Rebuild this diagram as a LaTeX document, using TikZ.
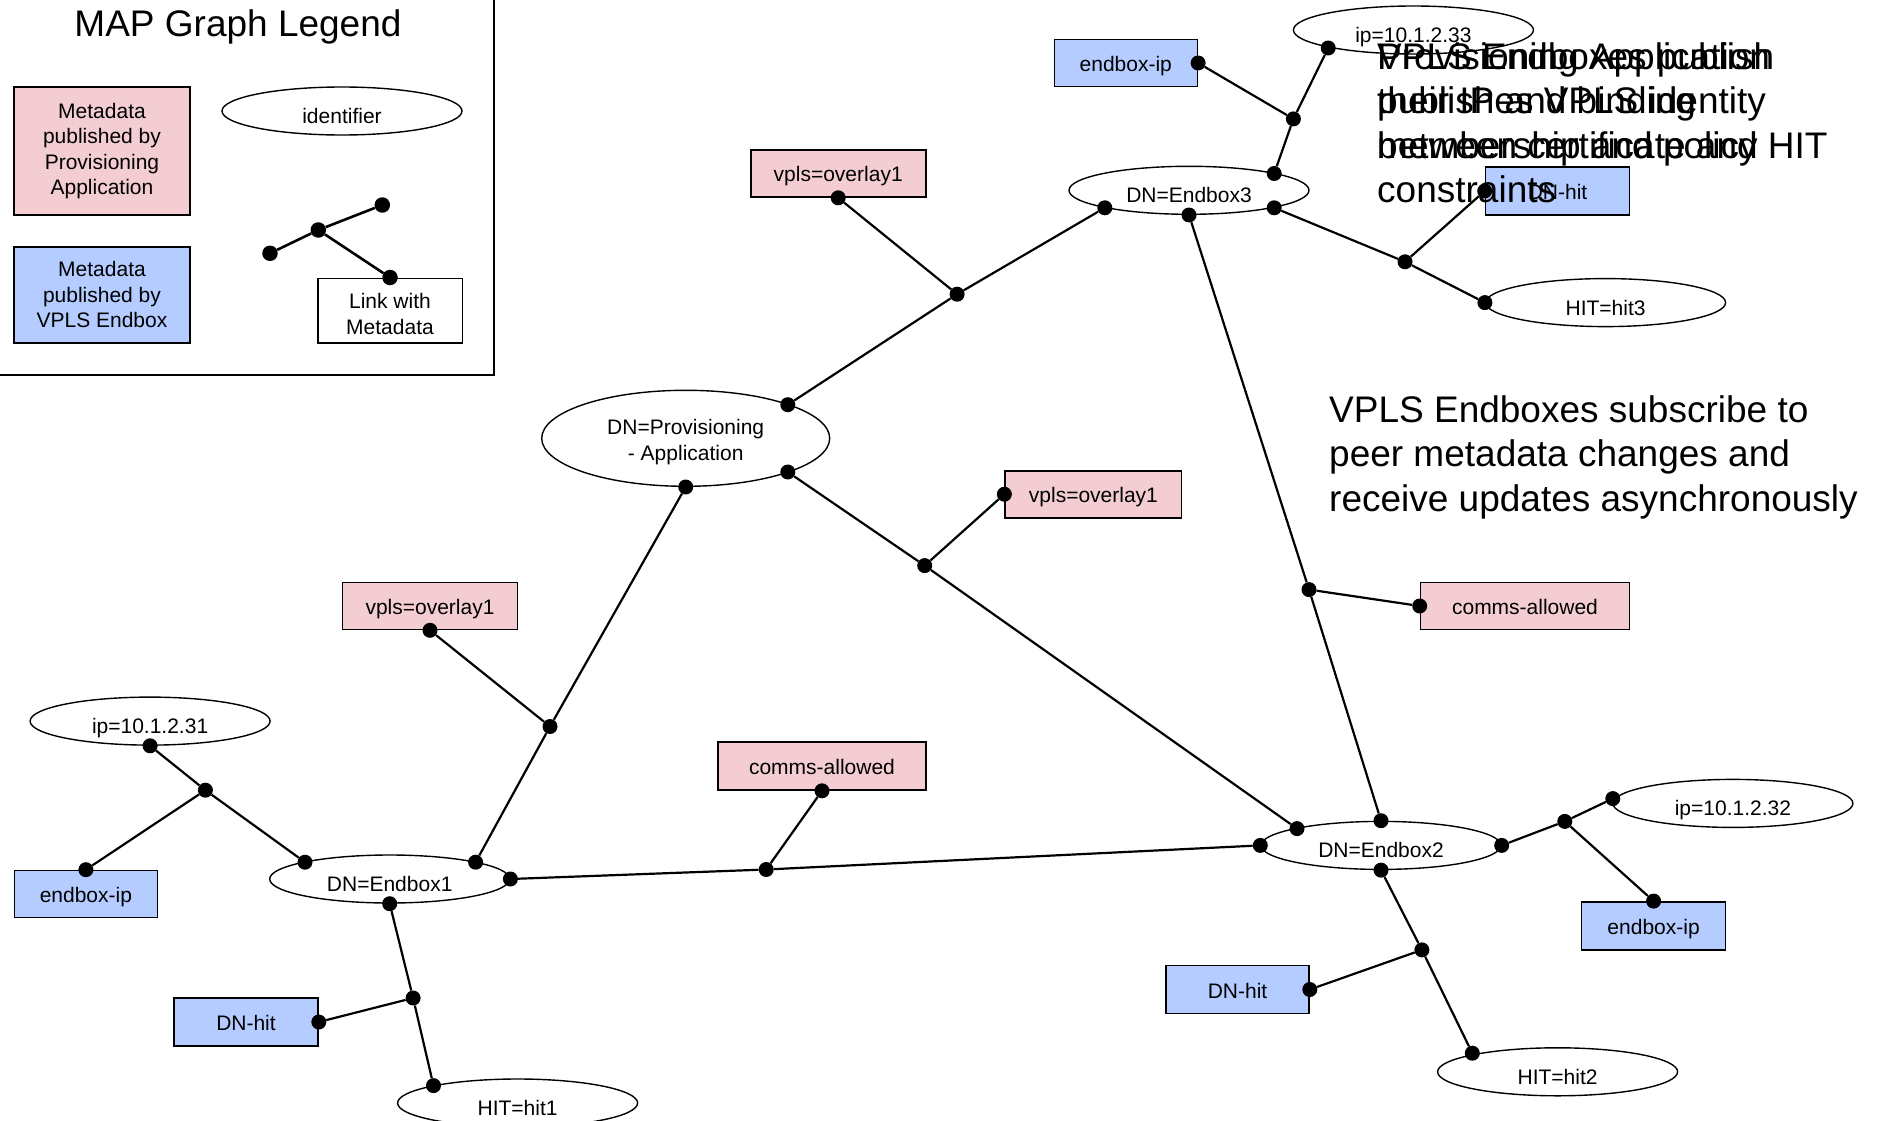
\documentclass[tikz,border=0pt]{standalone}
\usepackage{fontspec}
\setmainfont{Liberation Sans}
\usetikzlibrary{shapes.geometric}
\definecolor{pinkfill}{RGB}{243,205,210}
\definecolor{bluefill}{RGB}{180,204,255}
\begin{document}
\begin{tikzpicture}[x=1pt,y=-1pt,
  fs/.style={font=\fontsize{21}{25.5}\selectfont},
  idnode/.style={ellipse, draw, line width=1.4pt, fill=white, minimum width=240pt, minimum height=48pt, inner sep=0pt, fs, text height=25pt, text depth=0pt},
  pinkbox/.style={draw, line width=1.6pt, fill=pinkfill, inner sep=0pt, fs, minimum height=47pt},
  bluebox/.style={draw, line width=1.6pt, fill=bluefill, inner sep=0pt, fs, minimum height=48pt, minimum width=144pt},
  oneline/.style={text height=17pt, text depth=0pt},
  jdot/.style={circle, fill=black, inner sep=0pt, minimum size=15pt},
  ldot/.style={circle, fill=black, inner sep=0pt, minimum size=15.5pt},
  conn/.style={line width=2.2pt},
  lconn/.style={line width=2.6pt},
  bigtext/.style={font=\fontsize{37}{44.5}\selectfont, align=left, inner sep=0pt, anchor=north west}
]
\useasboundingbox (0,0) rectangle (1883,1121);
\fill[white] (0,0) rectangle (1883,1121);

% ---------- legend ----------
\draw[line width=2pt] (-5,-5) rectangle (493.5,375);
\node[anchor=base, inner sep=0pt, font=\fontsize{37}{44.5}\selectfont] (legtitle) at (238,36.7) {MAP Graph Legend};
\node[pinkbox, minimum width=176pt, minimum height=128pt, align=center] (legpink) at (102,151) {Metadata\\published by\\Provisioning\\Application};
\node[bluebox, minimum width=176pt, minimum height=96pt, align=center] (legblue) at (102,294.7) {Metadata\\published by\\VPLS Endbox};
\node[idnode] (legid) at (342,111) {identifier};
\node[draw, line width=1.6pt, fill=white, minimum width=144.6pt, minimum height=64.4pt, inner sep=0pt, align=center, fs] (leglink) at (390,310.5) {\rule{0pt}{22pt}Link with\\Metadata};
\node[ldot] (la) at (270,253.3) {};
\node[ldot] (lj) at (318.3,230) {};
\node[ldot] (lb) at (382.3,205) {};
\node[ldot] (lc) at (leglink.north) {};
\draw[lconn] (la) -- (lj) -- (lb);
\draw[lconn] (lj) -- (lc);

% ---------- identifiers and metadata ----------
\node[idnode] (ip33) at (1413.4,30) {ip=10.1.2.33};
\node[bluebox, oneline, minimum width=143pt, minimum height=47pt] (eip3) at (1125.8,63) {endbox-ip};
\node[idnode] (eb3) at (1189,190.3) {DN=Endbox3};
\node[bluebox, oneline] (dnh3) at (1557.5,191) {DN-hit};
\node[idnode] (hit3) at (1605.6,302.6) {HIT=hit3};
\node[pinkbox, oneline, minimum width=175pt] (vplsT) at (838.2,173.5) {vpls=overlay1};
\node[ellipse, draw, line width=1.4pt, fill=white, minimum width=288pt, minimum height=96pt, inner sep=0pt, fs, align=center] (prov) at (685.7,438.3) {\rule{0pt}{23pt}DN=Provisioning\\- Application};
\node[pinkbox, oneline, minimum width=176.5pt] (vplsM) at (1093.4,494.2) {vpls=overlay1};
\node[pinkbox, oneline, minimum width=209pt] (commsR) at (1525,606) {comms-allowed};
\node[pinkbox, oneline, minimum width=175pt] (vplsL) at (430,606) {vpls=overlay1};
\node[idnode] (ip31) at (150.1,721.1) {ip=10.1.2.31};
\node[bluebox, oneline, minimum width=143pt, minimum height=47pt] (eip1) at (85.9,894) {endbox-ip};
\node[pinkbox, oneline, minimum width=208pt, minimum height=48pt] (commsM) at (822,766) {comms-allowed};
\node[idnode] (eb1) at (389.7,879) {DN=Endbox1};
\node[bluebox, oneline] (dnh1) at (246,1022) {DN-hit};
\node[idnode] (hit1) at (517.6,1103) {HIT=hit1};
\node[idnode] (eb2) at (1381,845.4) {DN=Endbox2};
\node[idnode] (ip32) at (1732.9,803.4) {ip=10.1.2.32};
\node[bluebox, oneline] (eip2) at (1653.6,925.9) {endbox-ip};
\node[bluebox, oneline, minimum width=143pt] (dnh2) at (1237.5,989.5) {DN-hit};
\node[idnode] (hit2) at (1557.6,1071.8) {HIT=hit2};

% ---------- dots ----------
\node[jdot] (d1) at (1328.2,48) {};
\node[jdot] (d2) at (eip3.east) {};
\node[jdot] (j1) at (1293.4,118.9) {};
\node[jdot] (d3) at (1274.2,173.5) {};
\node[jdot] (d4) at (1274.2,207.8) {};
\node[jdot] (d5) at (1104.8,207.8) {};
\node[jdot] (d6) at (eb3.south) {};
\node[jdot] (j2) at (1405,261.8) {};
\node[jdot] (d7) at (dnh3.west) {};
\node[jdot] (d8) at (hit3.west) {};
\node[jdot] (d9) at (vplsT.south) {};
\node[jdot] (j3) at (957.1,294.2) {};
\node[jdot] (d10) at (787.8,404.7) {};
\node[jdot] (d11) at (787.8,472) {};
\node[jdot] (d12) at (prov.south) {};
\node[jdot] (d13) at (vplsM.west) {};
\node[jdot] (j5) at (924.7,565.6) {};
\node[jdot] (j4) at (1309,589.6) {};
\node[jdot] (d14) at (commsR.west) {};
\node[jdot] (d15) at (eb2.north) {};
\node[jdot] (d16) at (1297,828.6) {};
\node[jdot] (d17) at (eb2.west) {};
\node[jdot] (d18) at (eb2.east) {};
\node[jdot] (d19) at (eb2.south) {};
\node[jdot] (j10) at (1564.8,821.4) {};
\node[jdot] (d20) at (1612.8,798.6) {};
\node[jdot] (d21) at (eip2.north) {};
\node[jdot] (j11) at (1421.9,949.9) {};
\node[jdot] (d22) at (dnh2.east) {};
\node[jdot] (d23) at (1472.3,1053.2) {};
\node[jdot] (d24) at (vplsL.south) {};
\node[jdot] (j6) at (550,726.5) {};
\node[jdot] (d25) at (475.6,862.2) {};
\node[jdot] (d26) at (305,862.2) {};
\node[jdot] (d27) at (eb1.east) {};
\node[jdot] (d28) at (eb1.south) {};
\node[jdot] (j7) at (766.2,869.5) {};
\node[jdot] (d29) at (commsM.south) {};
\node[jdot] (j8) at (205.4,790.2) {};
\node[jdot] (d30) at (ip31.south) {};
\node[jdot] (d31) at (eip1.north) {};
\node[jdot] (j9) at (413.1,998) {};
\node[jdot] (d32) at (dnh1.east) {};
\node[jdot] (d33) at (433.5,1085.6) {};

% ---------- links ----------
\draw[conn] (d1) -- (j1) -- (d3);
\draw[conn] (j1) -- (d2);
\draw[conn] (d4) -- (j2) -- (d8);
\draw[conn] (j2) -- (d7);
\draw[conn] (d5) -- (j3) -- (d10);
\draw[conn] (j3) -- (d9);
\draw[conn] (d6) -- (j4) -- (d15);
\draw[conn] (j4) -- (d14);
\draw[conn] (d11) -- (j5) -- (d16);
\draw[conn] (j5) -- (d13);
\draw[conn] (d12) -- (j6) -- (d25);
\draw[conn] (j6) -- (d24);
\draw[conn] (d27) -- (j7) -- (d17);
\draw[conn] (j7) -- (d29);
\draw[conn] (d26) -- (j8) -- (d30);
\draw[conn] (j8) -- (d31);
\draw[conn] (d28) -- (j9) -- (d33);
\draw[conn] (j9) -- (d32);
\draw[conn] (d18) -- (j10) -- (d20);
\draw[conn] (j10) -- (d21);
\draw[conn] (d19) -- (j11) -- (d23);
\draw[conn] (j11) -- (d22);

% ---------- notes ----------
\node[bigtext] (noteA) at (1377,42) {Provisioning Application\\publishes VPLS identity\\membership and policy\\constraints};
\node[bigtext] (noteB) at (1377,42) {VPLS Endboxes publish\\their IP and binding\\between certificate and HIT};
\node[bigtext] (noteC) at (1329,395) {VPLS Endboxes subscribe to\\peer metadata changes and\\receive updates asynchronously};
\end{tikzpicture}
\end{document}
